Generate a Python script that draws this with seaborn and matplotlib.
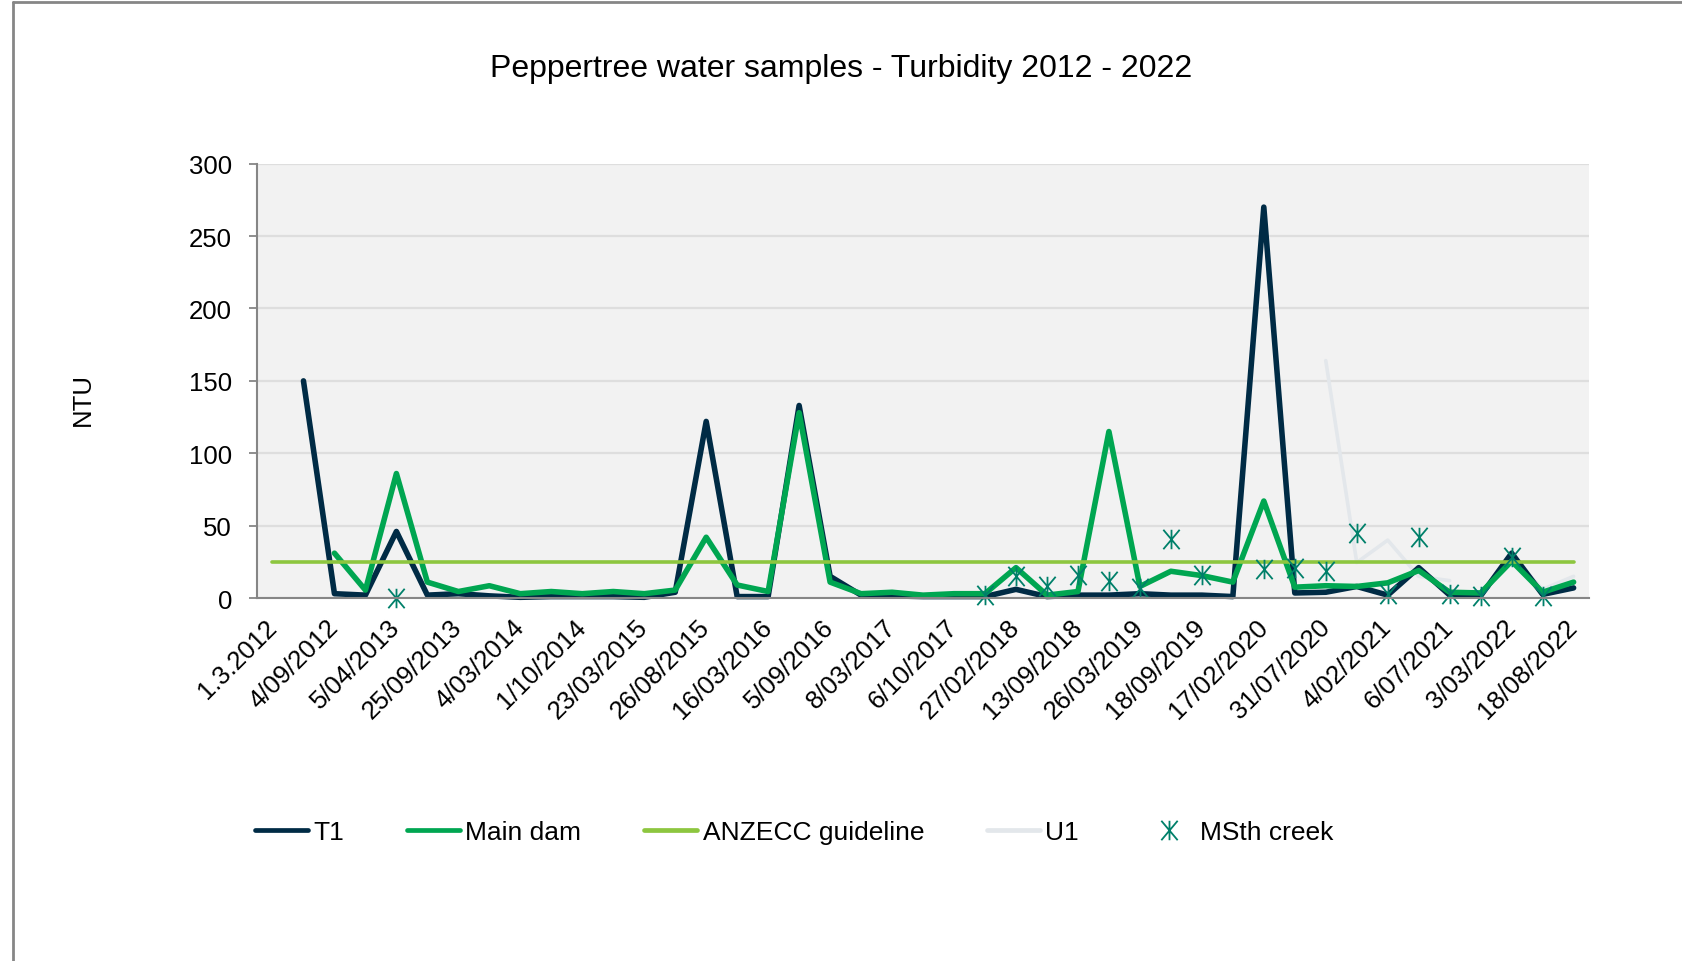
import numpy as np
import pandas as pd
import matplotlib
matplotlib.use("Agg")
import matplotlib.pyplot as plt
from matplotlib.lines import Line2D
from matplotlib.path import Path
import seaborn as sns

# %% Data (one value per sampling date, 43 dates)
nan = np.nan
tick_labels = ["1.3.2012", "4/09/2012", "5/04/2013", "25/09/2013", "4/03/2014",
               "1/10/2014", "23/03/2015", "26/08/2015", "16/03/2016", "5/09/2016",
               "8/03/2017", "6/10/2017", "27/02/2018", "13/09/2018", "26/03/2019",
               "18/09/2019", "17/02/2020", "31/07/2020", "4/02/2021", "6/07/2021",
               "3/03/2022", "18/08/2022"]

t1 = [nan, 150, 3, 2, 46, 2, 3, 1.5, 0.5, 1,
      1, 1, 0.5, 4, 122, 1, 1, 133, 15, 2,
      1.5, 1, 1, 1, 6, 1, 2, 2, 3, 2,
      2, 1, 270, 3.5, 4, 8, 2, 21, 2, 1.5,
      31, 2.5, 7]
main_dam = [nan, nan, 31, 5.5, 86, 11, 4.5, 8.5, 3, 4.5,
            3, 4.5, 3, 5.5, 42, 9, 4.5, 128, 11, 3,
            4, 2, 3, 3, 21, 2, 4.5, 115, 8, 18.5,
            15.5, 11, 67, 7.5, 8.5, 8, 10.5, 19, 4, 3.5,
            25.5, 4, 11]
u1 = [nan] * 34 + [164, 24.5, 40, 15, 12, nan, 29, 6, 15]
msth = [nan, nan, nan, nan, 0, nan, nan, nan, nan, nan,
        nan, nan, nan, nan, nan, nan, nan, nan, nan, nan,
        nan, nan, nan, 2, 15, 8, 16, 12, 7, 41,
        16, nan, 20, 21, 19, 45, 2.5, 42.5, 2.5, 1.5,
        28, 1.5, nan]
anzecc_value = 25

n = len(t1)
df = pd.DataFrame({"x": np.arange(n), "T1": t1, "Main dam": main_dam,
                   "U1": u1, "MSth creek": msth,
                   "ANZECC guideline": np.full(n, anzecc_value)})
# segment id so the U1 line breaks at the missing sample
df["u1_seg"] = df["U1"].isna().cumsum()

# %% Style
c_t1 = "#002B45"
c_dam = "#00A651"
c_anz = "#8DC63F"
c_u1 = "#E3E7EB"
c_ms = "#00806A"
c_axis = "#868686"

sns.set_style("white")
plt.rcParams["font.family"] = ["Liberation Sans", "DejaVu Sans"]
plt.rcParams["text.color"] = "black"

star = Path([(-0.42, -0.5), (0.42, 0.5), (-0.42, 0.5), (0.42, -0.5), (0, -0.5), (0, 0.5)],
            [Path.MOVETO, Path.LINETO, Path.MOVETO, Path.LINETO, Path.MOVETO, Path.LINETO])

fig = plt.figure(figsize=(16.83, 9.62), dpi=100)
ax = fig.add_axes([0.1527, 0.3773, 0.7915, 0.4515])
ax.set_facecolor("#F2F2F2")

sns.lineplot(data=df, x="x", y="U1", units="u1_seg", estimator=None, ax=ax,
             color=c_u1, lw=2.6, clip_on=False)
sns.lineplot(data=df, x="x", y="T1", ax=ax, color=c_t1, lw=4.0, clip_on=False)
sns.lineplot(data=df, x="x", y="Main dam", ax=ax, color=c_dam, lw=4.0, clip_on=False)
sns.lineplot(data=df, x="x", y="ANZECC guideline", ax=ax, color=c_anz, lw=2.6,
             solid_capstyle="round", clip_on=False)
sns.lineplot(data=df, x="x", y="MSth creek", ax=ax, linestyle="none", marker=star,
             markersize=14, markeredgewidth=1.3, markeredgecolor=c_ms, color=c_ms,
             clip_on=False)

# %% Axes
ax.set_xlim(-0.5, n - 0.5)
ax.set_ylim(0, 300)
ax.set_yticks(range(0, 301, 50))
ax.set_xticks(np.arange(0, n, 2))
ax.set_xticklabels(tick_labels, rotation=45, ha="right", rotation_mode="anchor", va="center")
ax.set_xticks(np.arange(-0.5, n, 1), minor=True)
ax.tick_params(axis="x", which="major", length=0, pad=18, labelsize=18.5, labelcolor="black")
ax.tick_params(axis="x", which="minor", length=6, width=1.3, color=c_axis, direction="out")
ax.tick_params(axis="y", length=6, width=1.3, color=c_axis, pad=12, labelsize=18.5,
               left=True, labelcolor="black")
ax.grid(axis="y", color="#DEDEDE", lw=1.6)
ax.set_axisbelow(True)
for s in ["top", "right"]:
    ax.spines[s].set_visible(False)
for s in ["left", "bottom"]:
    ax.spines[s].set_color(c_axis)
    ax.spines[s].set_linewidth(1.5)
ax.set_xlabel("")
ax.set_ylabel("")

fig.text(83 / 1683, 1 - 400 / 962, "NTU", rotation=90, ha="center", va="center", fontsize=18.5)
fig.text(0.5, 1 - 69 / 962, "Peppertree water samples - Turbidity 2012 - 2022",
         ha="center", va="center", fontsize=23)

# %% Legend
handles = [
    Line2D([], [], color=c_t1, lw=3.4, solid_capstyle="round"),
    Line2D([], [], color=c_dam, lw=3.4, solid_capstyle="round"),
    Line2D([], [], color=c_anz, lw=3.4, solid_capstyle="round"),
    Line2D([], [], color=c_u1, lw=3.4, solid_capstyle="round"),
    Line2D([], [], linestyle="none", marker=star, markersize=14, markeredgewidth=1.3,
           color=c_ms, markeredgecolor=c_ms),
]
labels = ["T1", "Main dam", "ANZECC guideline", "U1", "MSth creek"]
fig.legend(handles, labels, loc="center", bbox_to_anchor=(0.472, 1 - 833 / 962), ncol=5,
           frameon=False, fontsize=19, handlelength=2.0, handletextpad=0.2, columnspacing=2.4,
           labelcolor="black")

# %% Frame of the slide
fig.add_artist(Line2D([13 / 1683, 13 / 1683], [0, 1 - 3 / 962], transform=fig.transFigure,
                      color=c_axis, lw=2))
fig.add_artist(Line2D([13 / 1683, 1], [1 - 3 / 962, 1 - 3 / 962], transform=fig.transFigure,
                      color=c_axis, lw=2))

fig.savefig("out.png", dpi=100)
